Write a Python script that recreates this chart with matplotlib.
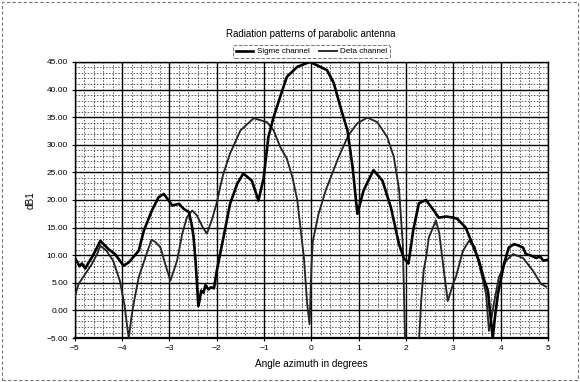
"""
Radiation patterns of a parabolic antenna: sum (sigma) and difference (delta)
channel, read off a scanned plot.
"""

import numpy as np
import matplotlib
matplotlib.use("Agg")
import matplotlib.pyplot as plt
from matplotlib.ticker import MultipleLocator, FuncFormatter
from matplotlib.patches import Rectangle

plt.rcParams['font.family'] = ['Liberation Sans', 'DejaVu Sans']

# ── Data ───────────────────────────────────────────────────────────
sigma_x = [-5.0, -4.95, -4.9, -4.85, -4.78, -4.7, -4.64, -4.53, -4.46, -4.29,
           -4.15, -3.97, -3.86, -3.65, -3.54, -3.37, -3.23, -3.12, -2.94, -2.8,
           -2.7, -2.59, -2.53, -2.49, -2.45, -2.42, -2.39, -2.36, -2.33, -2.28,
           -2.24, -2.18, -2.12, -2.06, -2.0, -1.86, -1.72, -1.57, -1.44, -1.26,
           -1.12, -1.01, -0.91, -0.8, -0.66, -0.52, -0.3, -0.03, 0.33, 0.47,
           0.61, 0.76, 0.87, 0.97, 1.1, 1.31, 1.5, 1.68, 1.85, 1.95,
           2.05, 2.15, 2.27, 2.42, 2.55, 2.69, 2.85, 3.0, 3.08, 3.26,
           3.4, 3.54, 3.65, 3.73, 3.8, 3.83, 3.88, 3.94, 4.07, 4.17,
           4.28, 4.36, 4.47, 4.53, 4.62, 4.75, 4.83, 4.9, 5.0]
sigma_y = [9.5, 8.8, 8.0, 8.5, 7.6, 8.8, 9.6, 11.4, 12.6, 11.1,
           10.2, 8.1, 8.7, 10.8, 14.5, 18.1, 20.5, 21.1, 19.0, 19.3,
           18.4, 17.8, 15.5, 13.2, 9.0, 5.0, 0.8, 2.0, 3.6, 3.2,
           4.6, 3.8, 4.2, 4.0, 7.2, 13.2, 19.3, 22.9, 24.8, 23.5,
           19.9, 24.0, 31.4, 35.0, 38.7, 42.3, 44.1, 45.0, 43.5, 41.2,
           36.9, 32.6, 25.9, 17.5, 21.7, 25.4, 23.5, 18.6, 12.0, 9.5,
           8.5, 14.5, 19.4, 20.0, 18.5, 16.8, 17.0, 16.8, 16.6, 15.0,
           12.0, 9.0, 5.5, 3.5, -2.5, -5.0, -1.0, 3.0, 8.5, 11.4,
           12.0, 11.8, 11.4, 10.2, 10.0, 9.5, 9.8, 9.0, 9.2]

delta_x = [-5.0, -4.92, -4.78, -4.64, -4.53, -4.46, -4.33, -4.19, -4.05, -3.95,
           -3.9, -3.86, -3.8, -3.76, -3.65, -3.51, -3.38, -3.3, -3.19, -3.09,
           -2.98, -2.84, -2.73, -2.63, -2.52, -2.42, -2.3, -2.21, -2.1, -2.0,
           -1.93, -1.86, -1.72, -1.5, -1.22, -0.94, -0.8, -0.66, -0.52, -0.4,
           -0.3, -0.16, -0.09, -0.04, 0.0, 0.03, 0.15, 0.3, 0.57, 0.78,
           0.97, 1.18, 1.39, 1.6, 1.74, 1.85, 1.93, 1.98, 2.27, 2.32,
           2.37, 2.42, 2.48, 2.63, 2.7, 2.8, 2.88, 3.0, 3.05, 3.2,
           3.33, 3.45, 3.58, 3.69, 3.75, 3.8, 3.87, 3.96, 4.11, 4.26,
           4.47, 4.68, 4.85, 4.96]
delta_y = [2.5, 4.8, 6.6, 8.4, 10.2, 11.7, 10.8, 9.0, 5.4, 1.0,
           -2.5, -5.0, -1.0, 1.1, 6.0, 9.6, 12.8, 12.4, 11.4, 8.4,
           5.4, 9.0, 13.9, 16.9, 18.1, 17.2, 15.1, 13.9, 16.5, 19.5,
           22.3, 24.8, 28.4, 32.6, 34.8, 34.1, 32.6, 29.6, 27.5, 24.0,
           20.0, 9.6, 1.1, -2.5, 8.0, 12.6, 17.5, 21.7, 27.7, 31.7,
           33.9, 34.9, 34.1, 31.4, 27.8, 22.0, 12.0, -6.0, -6.0, 2.0,
           7.2, 9.5, 13.2, 16.3, 14.0, 7.0, 1.7, 5.0, 6.0, 10.8,
           12.6, 11.5, 7.0, 3.0, -3.7, -1.5, 2.0, 6.0, 9.0, 10.2,
           9.5, 7.2, 4.8, 4.3]

x_ticks = [-5, -4, -3, -2, -1, 0, 1, 2, 3, 4, 5]
y_ticks = [-5, 0, 5, 10, 15, 20, 25, 30, 35, 40, 45]

# ── Figure ────────────────────────────────────────────────────────
fig = plt.figure(figsize=(5.8, 3.82), dpi=100)
ax = fig.add_axes([0.129, 0.115, 0.816, 0.723])

ax.plot(sigma_x, sigma_y, color='black', linewidth=1.9, label='Sigme channel',
        zorder=4)
ax.plot(delta_x, delta_y, color='#262626', linewidth=1.35, label='Deta channel',
        zorder=3)

ax.set_xlim(-5, 5)
ax.set_ylim(-5, 45)
ax.set_xticks(x_ticks)
ax.set_yticks(y_ticks)
ax.xaxis.set_minor_locator(MultipleLocator(0.2))
ax.yaxis.set_minor_locator(MultipleLocator(1))
ax.yaxis.set_major_formatter(FuncFormatter(lambda v, p: f"{v:.2f}".replace('-', '\u2212')))

ax.grid(which='major', color='black', linewidth=1.0)
ax.grid(which='minor', color='black', linewidth=0.55, linestyle=(0, (2, 2)), alpha=0.8)
ax.set_axisbelow(True)
ax.tick_params(which='minor', length=0)
ax.tick_params(which='major', length=2, labelsize=6, pad=3)
for s in ax.spines.values():
    s.set_linewidth(1.0)
ax.spines['bottom'].set_linewidth(1.6)

ax.set_xlabel("Angle azimuth in degrees", fontsize=7.2, labelpad=5)
ax.set_ylabel("dB1", fontsize=7.2, labelpad=8)

fig.text(0.535, 0.911, "Radiation patterns of parabolic antenna",
         ha='center', va='center', fontsize=7)

leg = ax.legend(loc='lower center', bbox_to_anchor=(0.5, 1.0), ncol=2,
                fontsize=5.8, handlelength=2.2, handletextpad=0.4,
                columnspacing=1.2, borderpad=0.3, frameon=True)
leg.get_frame().set_edgecolor('#555555')
leg.get_frame().set_linestyle('--')
leg.get_frame().set_linewidth(0.7)

# scanned page frame
fig.patches.append(Rectangle((0.004, 0.004), 0.992, 0.99, transform=fig.transFigure,
                             fill=False, edgecolor='#777777', linewidth=0.8,
                             linestyle=(0, (3, 2))))

fig.savefig("out.png", dpi=100)
